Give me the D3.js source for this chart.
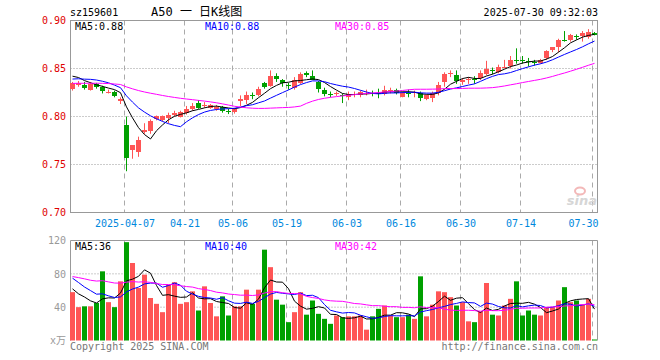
<!DOCTYPE html>
<html>
<head>
<meta charset="utf-8">
<script src="https://d3js.org/d3.v7.min.js"></script>
<style>
body { margin: 0; background: #fff; }
text { font-family: "DejaVu Sans Mono", monospace; font-size: 10px; }
</style>
</head>
<body>
<svg id="chart" width="660" height="360"></svg>
<script>
// trading days on the chart (2025)
var dates = [
  "03-24","03-25","03-26","03-27","03-28","03-31",
  "04-01","04-02","04-03","04-07","04-08","04-09","04-10","04-11","04-14","04-15","04-16","04-17","04-18",
  "04-21","04-22","04-23","04-24","04-25","04-28","04-29","04-30",
  "05-06","05-07","05-08","05-09","05-12","05-13","05-14","05-15","05-16","05-19","05-20","05-21","05-22",
  "05-23","05-26","05-27","05-28","05-29","05-30",
  "06-03","06-04","06-05","06-06","06-09","06-10","06-11","06-12","06-13","06-16","06-17","06-18","06-19",
  "06-20","06-23","06-24","06-25","06-26","06-27","06-30",
  "07-01","07-02","07-03","07-04","07-07","07-08","07-09","07-10","07-11","07-14","07-15","07-16","07-17",
  "07-18","07-21","07-22","07-23","07-24","07-25","07-28","07-29","07-30"
];

var open = [
  0.829,0.833,0.833,0.828,0.834,0.831,0.825,0.826,0.816,0.791,
  0.765,0.763,0.784,0.785,0.797,0.796,0.799,0.802,0.800,0.804,
  0.808,0.8145,0.811,0.809,0.808,0.810,0.806,0.805,0.816,0.817,
  0.822,0.823,0.835,0.832,0.8425,0.838,0.833,0.830,0.835,0.8455,
  0.8425,0.836,0.8275,0.8235,0.823,0.822,0.820,0.822,0.822,0.824,
  0.8245,0.825,0.824,0.8265,0.8275,0.8205,0.825,0.8245,0.8245,0.818,
  0.819,0.824,0.836,0.844,0.843,0.836,0.838,0.839,0.840,0.845,
  0.8485,0.8465,0.851,0.8525,0.859,0.859,0.858,0.857,0.8555,0.861,
  0.869,0.872,0.880,0.8795,0.884,0.883,0.8835,0.8875
];
var high = [
  0.836,0.837,0.836,0.836,0.835,0.832,0.828,0.827,0.820,0.800,
  0.770,0.779,0.793,0.797,0.801,0.801,0.804,0.806,0.806,0.811,
  0.814,0.817,0.815,0.813,0.812,0.811,0.808,0.809,0.822,0.826,
  0.825,0.831,0.836,0.848,0.845,0.839,0.835,0.841,0.846,0.847,
  0.848,0.837,0.830,0.826,0.826,0.824,0.826,0.826,0.827,0.828,
  0.827,0.829,0.832,0.830,0.829,0.826,0.828,0.827,0.826,0.823,
  0.826,0.836,0.846,0.848,0.848,0.840,0.841,0.842,0.848,0.858,
  0.851,0.854,0.859,0.863,0.871,0.863,0.861,0.859,0.860,0.869,
  0.872,0.881,0.889,0.886,0.8855,0.889,0.891,0.888
];
var low = [
  0.827,0.831,0.828,0.827,0.829,0.824,0.824,0.820,0.813,0.743,
  0.756,0.758,0.782,0.782,0.796,0.795,0.793,0.800,0.799,0.802,
  0.806,0.808,0.809,0.808,0.806,0.804,0.8025,0.803,0.811,0.813,
  0.818,0.821,0.829,0.831,0.836,0.831,0.828,0.828,0.834,0.841,
  0.838,0.825,0.821,0.820,0.8215,0.814,0.817,0.820,0.820,0.822,
  0.821,0.819,0.822,0.824,0.823,0.820,0.820,0.820,0.816,0.817,
  0.815,0.822,0.831,0.841,0.834,0.833,0.834,0.834,0.838,0.843,
  0.844,0.845,0.850,0.850,0.855,0.855,0.852,0.853,0.855,0.859,
  0.867,0.867,0.878,0.878,0.880,0.878,0.881,0.8845
];
var close = [
  0.835,0.835,0.830,0.834,0.831,0.827,0.826,0.822,0.818,0.757,
  0.770,0.775,0.786,0.795,0.800,0.800,0.802,0.804,0.805,0.808,
  0.811,0.809,0.812,0.812,0.810,0.806,0.8045,0.808,0.818,0.822,
  0.821,0.829,0.831,0.842,0.839,0.8345,0.832,0.838,0.844,0.843,
  0.8385,0.8285,0.823,0.823,0.8245,0.821,0.823,0.823,0.8255,0.825,
  0.824,0.824,0.828,0.8275,0.8245,0.8245,0.8245,0.8255,0.819,0.822,
  0.824,0.8325,0.8445,0.845,0.837,0.8385,0.839,0.8385,0.845,0.850,
  0.848,0.8515,0.852,0.8585,0.858,0.8585,0.857,0.8565,0.859,0.868,
  0.872,0.8795,0.8795,0.8845,0.8833,0.8865,0.8885,0.885
];
// volume, x万
var volume = [
  58,40,41,41,45,83,46,40,71,118,
  93,63,79,51,44,34,67,70,44,46,
  59,36,65,45,29,53,30,41,41,61,
  44,61,109,88,49,43,22,34,58,31,
  48,32,26,20,30,28,29,29,30,13,
  29,38,42,30,28,28,31,26,77,29,
  43,59,58,52,42,46,23,22,35,69,
  31,30,42,50,71,30,36,31,30,40,
  40,48,64,46,48,43,50,1.2
];

// days before 03-24, only used to start the moving averages
var priorClose = [
  0.829,0.831,0.834,0.829,0.831,0.833,0.835,0.834,0.832,0.830,
  0.829,0.831,0.833,0.835,0.836,0.834,0.833,0.832,0.831,0.831,
  0.832,0.834,0.836,0.838,0.840,0.842,0.846,0.845,0.842
];
var priorVolume = [
  78,85,92,74,70,88,82,76,82,
  72,80,68,75,84,70,66,78,82,74,78,
  92,95,84,88,79,
  70,60,64,58
];

var tickDates = ["04-07","04-21","05-06","05-19","06-03","06-16","06-30","07-14","07-30"];
var tickLabels = ["2025-04-07","04-21","05-06","05-19","06-03","06-16","06-30","07-14","07-30"];
var priceTicks = [0.70, 0.75, 0.80, 0.85, 0.90];
var volTicks = [0, 40, 80, 120];
var priceMaText = ["MA5:0.88", "MA10:0.88", "MA30:0.85"];
var volMaText = ["MA5:36", "MA10:40", "MA30:42"];

var maLen = [5, 10, 30];
var maColor = ["#000000", "#0000ff", "#ff00ff"];
var upColor = "#ff5555", downColor = "#00a000";

var svg = d3.select("#chart");
var right = 597.5;

var x = d3.scalePoint().domain(dates).range([72.5, 594.5]);
var yP = d3.scaleLinear().domain([0.70, 0.90]).range([212.5, 20.5]);
var yV = d3.scaleLinear().domain([0, 120]).range([340.5, 240.5]);

function movingAvg(prior, vals, n) {
  var all = prior.concat(vals);
  return vals.map(function(v, i) {
    var j = i + prior.length;
    return d3.mean(all.slice(j - n + 1, j + 1));
  });
}
function isUp(i) { return close[i] >= open[i]; }

var idx = d3.range(dates.length);

// ---- header
svg.append("text").attr("x", 70).attr("y", 16).text("sz159601");
svg.append("text").attr("x", 151).attr("y", 16)
  .style("font-family", "'DejaVu Sans Mono','Noto Sans CJK SC'")
  .style("font-size", "12px")
  .text("A50 一 日K线图");
svg.append("text").attr("x", 598).attr("y", 16).attr("text-anchor", "end")
  .text("2025-07-30 09:32:03");

// ---- grid lines
var grid = svg.append("g");
grid.selectAll("line.hp").data(priceTicks.slice(1, 4)).enter().append("line")
  .attr("x1", 70.5).attr("x2", right)
  .attr("y1", d => yP(d)).attr("y2", d => yP(d))
  .attr("stroke", "#999").attr("stroke-dasharray", "1,2");
grid.selectAll("line.hv").data([40, 80]).enter().append("line")
  .attr("x1", 70.5).attr("x2", right)
  .attr("y1", d => yV(d)).attr("y2", d => yV(d))
  .attr("stroke", "#999").attr("stroke-dasharray", "1,2");
[[20.5, 212.5], [240.5, 340.5]].forEach(function(r) {
  grid.selectAll(null).data(tickDates).enter().append("line")
    .attr("x1", d => x(d) - 2).attr("x2", d => x(d) - 2)
    .attr("y1", r[0]).attr("y2", r[1])
    .attr("stroke", "#aaa").attr("stroke-dasharray", "5,4");
});

// sina watermark
svg.append("ellipse").attr("cx", 580).attr("cy", 191).attr("rx", 5).attr("ry", 3.5)
  .attr("fill", "none").attr("stroke", "#f3b8b8").attr("stroke-width", 2);
svg.append("text").attr("x", 597).attr("y", 205).attr("text-anchor", "end")
  .style("font-family", "'DejaVu Sans'").style("font-size", "13px")
  .style("font-style", "italic").style("font-weight", "bold")
  .attr("fill", "#d6d6d6").text("sina");

// ---- frames
svg.append("rect").attr("x", 70.5).attr("y", 20.5).attr("width", right - 70.5).attr("height", 192)
  .attr("fill", "none").attr("stroke", "#999");
svg.append("path").attr("d", "M70.5,340.5V240.5H" + right + "V340.5")
  .attr("fill", "none").attr("stroke", "#999");

// ---- axes
var pAxis = svg.append("g").attr("transform", "translate(70,0)")
  .call(d3.axisLeft(yP).tickValues(priceTicks).tickFormat(d3.format(".2f")).tickSize(0).tickPadding(4));
pAxis.select(".domain").remove();
pAxis.selectAll("text").attr("fill", "#e00000").style("font-size", "10px")
  .style("font-family", "'DejaVu Sans Mono'");

var vAxis = svg.append("g").attr("transform", "translate(70,0)")
  .call(d3.axisLeft(yV).tickValues(volTicks).tickFormat(d => d === 0 ? "x万" : d).tickSize(0).tickPadding(4));
vAxis.select(".domain").remove();
vAxis.selectAll("text").attr("fill", "#999").style("font-size", "10px")
  .style("font-family", "'DejaVu Sans Mono','Noto Sans CJK SC'");

var xAxis = svg.append("g").attr("transform", "translate(-2,220)")
  .call(d3.axisBottom(x).tickValues(tickDates)
    .tickFormat((d, i) => tickLabels[i]).tickSize(0).tickPadding(0));
xAxis.select(".domain").remove();
xAxis.selectAll("text").attr("fill", "#0088dd").style("font-size", "10px")
  .style("font-family", "'DejaVu Sans Mono'");
// last label is kept inside the frame
xAxis.selectAll(".tick").filter(d => d === tickDates[tickDates.length - 1]).select("text")
  .attr("text-anchor", "end")
  .attr("x", d => right + 0.5 - (x(d) - 2));

// ---- candles
var candles = svg.append("g").selectAll("g").data(idx).enter().append("g");
candles.append("line")
  .attr("x1", i => x(dates[i])).attr("x2", i => x(dates[i]))
  .attr("y1", i => yP(high[i])).attr("y2", i => yP(low[i]))
  .attr("stroke", i => isUp(i) ? upColor : downColor);
candles.append("rect")
  .attr("x", i => x(dates[i]) - 2.5).attr("width", 5)
  .attr("y", i => Math.round(yP(Math.max(open[i], close[i]))))
  .attr("height", i => Math.max(1, Math.round(Math.abs(yP(open[i]) - yP(close[i])))))
  .attr("fill", i => isUp(i) ? upColor : downColor);

// ---- volume bars
svg.append("g").selectAll("rect").data(idx).enter().append("rect")
  .attr("x", i => x(dates[i]) - 2.5).attr("width", 5)
  .attr("y", i => yV(volume[i])).attr("height", i => yV(0) - yV(volume[i]))
  .attr("fill", i => isUp(i) ? upColor : downColor);

// ---- moving averages
maLen.forEach(function(n, k) {
  var pm = movingAvg(priorClose, close, n);
  var vm = movingAvg(priorVolume, volume, n);
  svg.append("path").datum(idx)
    .attr("d", d3.line().x(i => x(dates[i])).y(i => yP(pm[i])))
    .attr("fill", "none").attr("stroke", maColor[k]).attr("stroke-width", 1);
  svg.append("path").datum(idx)
    .attr("d", d3.line().x(i => x(dates[i])).y(i => yV(vm[i])))
    .attr("fill", "none").attr("stroke", maColor[k]).attr("stroke-width", 1);
});

// ---- MA labels
var labelX = [75, 205, 335];
svg.selectAll("text.pma").data(priceMaText).enter().append("text")
  .attr("x", (d, i) => labelX[i]).attr("y", 30)
  .attr("fill", (d, i) => maColor[i]).text(d => d);
svg.selectAll("text.vma").data(volMaText).enter().append("text")
  .attr("x", (d, i) => labelX[i]).attr("y", 250)
  .attr("fill", (d, i) => maColor[i]).text(d => d);

// ---- footer
svg.append("text").attr("x", 70).attr("y", 350).attr("fill", "#777")
  .text("Copyright 2025 SINA.COM");
svg.append("text").attr("x", 598).attr("y", 350).attr("text-anchor", "end").attr("fill", "#777")
  .text("http://finance.sina.com.cn");
</script>
</body>
</html>
